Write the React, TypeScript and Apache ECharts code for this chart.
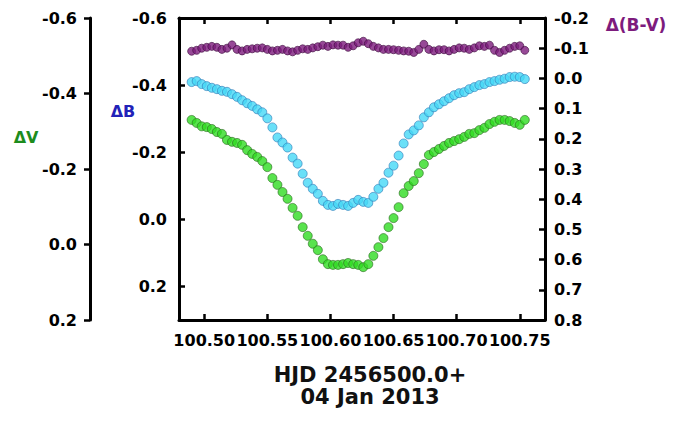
import React, { useEffect, useRef } from "react";
import * as echarts from "echarts";

// HJD - 2456500.0
const hjd = [
  100.490, 100.494, 100.498, 100.502, 100.506, 100.510, 100.514, 100.518, 100.522, 100.526,
  100.530, 100.534, 100.538, 100.542, 100.546, 100.550, 100.554, 100.558, 100.562, 100.566,
  100.570, 100.574, 100.578, 100.582, 100.586, 100.590, 100.594, 100.598, 100.602, 100.606,
  100.610, 100.614, 100.618, 100.622, 100.626, 100.630, 100.634, 100.638, 100.642, 100.646,
  100.650, 100.654, 100.658, 100.662, 100.666, 100.670, 100.674, 100.678, 100.682, 100.686,
  100.690, 100.694, 100.698, 100.702, 100.706, 100.710, 100.714, 100.718, 100.722, 100.726,
  100.730, 100.734, 100.738, 100.742, 100.746, 100.750, 100.754,
];

const deltaBV = [
  -0.090, -0.093, -0.100, -0.103, -0.106, -0.103, -0.096, -0.100, -0.111, -0.096,
  -0.091, -0.096, -0.098, -0.100, -0.101, -0.096, -0.091, -0.093, -0.096, -0.091,
  -0.088, -0.093, -0.098, -0.096, -0.101, -0.105, -0.110, -0.106, -0.111, -0.110,
  -0.110, -0.103, -0.108, -0.118, -0.123, -0.115, -0.106, -0.101, -0.096, -0.096,
  -0.095, -0.093, -0.091, -0.090, -0.086, -0.096, -0.113, -0.096, -0.091, -0.095,
  -0.095, -0.091, -0.096, -0.101, -0.100, -0.096, -0.101, -0.108, -0.106, -0.110,
  -0.093, -0.086, -0.093, -0.100, -0.106, -0.108, -0.093,
];

const deltaB = [
  -0.409, -0.412, -0.403, -0.397, -0.392, -0.388, -0.383, -0.380, -0.373, -0.365,
  -0.355, -0.346, -0.338, -0.328, -0.319, -0.301, -0.274, -0.244, -0.229, -0.214,
  -0.184, -0.166, -0.136, -0.109, -0.091, -0.076, -0.055, -0.043, -0.040, -0.046,
  -0.043, -0.040, -0.049, -0.058, -0.052, -0.049, -0.067, -0.091, -0.109, -0.139,
  -0.160, -0.190, -0.226, -0.253, -0.265, -0.280, -0.304, -0.319, -0.334, -0.343,
  -0.352, -0.361, -0.370, -0.376, -0.379, -0.388, -0.394, -0.400, -0.403, -0.409,
  -0.412, -0.416, -0.419, -0.424, -0.425, -0.424, -0.418,
];

const deltaV = [
  -0.330, -0.322, -0.313, -0.311, -0.306, -0.298, -0.293, -0.277, -0.272, -0.269,
  -0.264, -0.250, -0.240, -0.232, -0.221, -0.205, -0.176, -0.158, -0.139, -0.121,
  -0.097, -0.076, -0.046, -0.023, -0.002, 0.015, 0.039, 0.052, 0.054, 0.054,
  0.052, 0.049, 0.052, 0.054, 0.060, 0.052, 0.030, 0.007, -0.017, -0.046,
  -0.070, -0.099, -0.136, -0.155, -0.168, -0.189, -0.213, -0.237, -0.245, -0.253,
  -0.261, -0.269, -0.274, -0.279, -0.285, -0.293, -0.295, -0.303, -0.309, -0.319,
  -0.325, -0.330, -0.330, -0.327, -0.322, -0.317, -0.330,
];

const xTicks = [100.5, 100.55, 100.6, 100.65, 100.7, 100.75];
const bTicks = [-0.6, -0.4, -0.2, 0.0, 0.2];
const vTicks = [-0.6, -0.4, -0.2, 0.0, 0.2];
const bvTicks = [-0.2, -0.1, 0.0, 0.1, 0.2, 0.3, 0.4, 0.5, 0.6, 0.7, 0.8];

const xTitle = "HJD 2456500.0+\n04 Jan 2013";
const nameV = "ΔV";
const nameB = "ΔB";
const nameBV = "Δ(B-V)";

const FONT = '"DejaVu Sans", sans-serif';

export default function App() {
  const ref = useRef<HTMLDivElement>(null);

  useEffect(() => {
    const chart = echarts.init(ref.current!, null, { renderer: "svg" });

    const line = { show: true, onZero: false, lineStyle: { color: "#000", width: 3 } };
    const labelStyle = {
      color: "#000",
      fontFamily: FONT,
      fontWeight: "bold" as const,
      fontSize: 16,
    };
    const tickStyle = { color: "#000", width: 2.5 };

    chart.setOption({
      animation: false,
      backgroundColor: "#fff",
      grid: { left: 179, right: 140, top: 18, bottom: 102, containLabel: false },
      xAxis: [
        {
          type: "value",
          position: "bottom",
          min: 100.48,
          max: 100.77,
          axisLine: line,
          axisTick: { show: true, inside: true, length: 6, lineStyle: tickStyle, customValues: xTicks },
          axisLabel: {
            ...labelStyle,
            margin: 12,
            customValues: xTicks,
            formatter: (v: number) => v.toFixed(2),
          },
          splitLine: { show: false },
        },
        {
          type: "value",
          position: "top",
          min: 100.48,
          max: 100.77,
          axisLine: line,
          axisTick: { show: true, inside: true, length: 6, lineStyle: tickStyle, customValues: xTicks },
          axisLabel: { show: false },
          splitLine: { show: false },
        },
      ],
      yAxis: [
        {
          type: "value",
          position: "left",
          inverse: true,
          min: -0.6,
          max: 0.3,
          axisLine: line,
          axisTick: { show: true, inside: true, length: 6, lineStyle: tickStyle, customValues: bTicks },
          axisLabel: {
            ...labelStyle,
            margin: 12,
            customValues: bTicks,
            formatter: (v: number) => v.toFixed(1),
          },
          splitLine: { show: false },
        },
        {
          type: "value",
          position: "left",
          offset: 89,
          inverse: true,
          min: -0.6,
          max: 0.2,
          axisLine: line,
          axisTick: { show: true, inside: false, length: 6, lineStyle: tickStyle, customValues: vTicks },
          axisLabel: {
            ...labelStyle,
            margin: 13,
            customValues: vTicks,
            formatter: (v: number) => v.toFixed(1),
          },
          splitLine: { show: false },
        },
        {
          type: "value",
          position: "right",
          inverse: true,
          min: -0.2,
          max: 0.8,
          axisLine: line,
          axisTick: { show: true, inside: true, length: 6, lineStyle: tickStyle, customValues: bvTicks },
          axisLabel: {
            ...labelStyle,
            margin: 9,
            customValues: bvTicks,
            formatter: (v: number) => v.toFixed(1),
          },
          splitLine: { show: false },
        },
      ],
      series: [
        {
          name: nameV,
          type: "scatter",
          xAxisIndex: 0,
          yAxisIndex: 1,
          symbol: "circle",
          symbolSize: 9,
          itemStyle: { color: "#2fdc22", borderColor: "#2a6b1e", borderWidth: 0.8 },
          data: hjd.map((x, i) => [x, deltaV[i]]),
        },
        {
          name: nameB,
          type: "scatter",
          xAxisIndex: 0,
          yAxisIndex: 0,
          symbol: "circle",
          symbolSize: 9,
          itemStyle: { color: "#45d8f6", borderColor: "#2f7ab8", borderWidth: 0.8 },
          data: hjd.map((x, i) => [x, deltaB[i]]),
        },
        {
          name: nameBV,
          type: "scatter",
          xAxisIndex: 0,
          yAxisIndex: 2,
          symbol: "circle",
          symbolSize: 8,
          itemStyle: { color: "#7d1b7d", borderColor: "#3e0c3e", borderWidth: 0.8 },
          data: hjd.map((x, i) => [x, deltaBV[i]]),
        },
      ],
      graphic: [
        {
          type: "text",
          x: 26,
          y: 137,
          style: {
            text: nameV,
            fill: "#1d8c1d",
            font: `bold 16px ${FONT}`,
            textAlign: "center",
            textVerticalAlign: "middle",
          },
        },
        {
          type: "text",
          x: 123,
          y: 111,
          style: {
            text: nameB,
            fill: "#2222b8",
            font: `bold 16px ${FONT}`,
            textAlign: "center",
            textVerticalAlign: "middle",
          },
        },
        {
          type: "text",
          x: 636,
          y: 25,
          style: {
            text: nameBV,
            fill: "#7d1b7d",
            font: `bold 17px ${FONT}`,
            textAlign: "center",
            textVerticalAlign: "middle",
          },
        },
        {
          type: "text",
          x: 370,
          y: 386,
          style: {
            text: xTitle,
            fill: "#111",
            font: `bold 21px ${FONT}`,
            lineHeight: 22,
            textAlign: "center",
            textVerticalAlign: "middle",
          },
        },
      ],
    });

    return () => chart.dispose();
  }, []);

  return (
    <div
      ref={ref}
      style={{ position: "fixed", left: 0, top: 0, width: 685, height: 422 }}
    />
  );
}
